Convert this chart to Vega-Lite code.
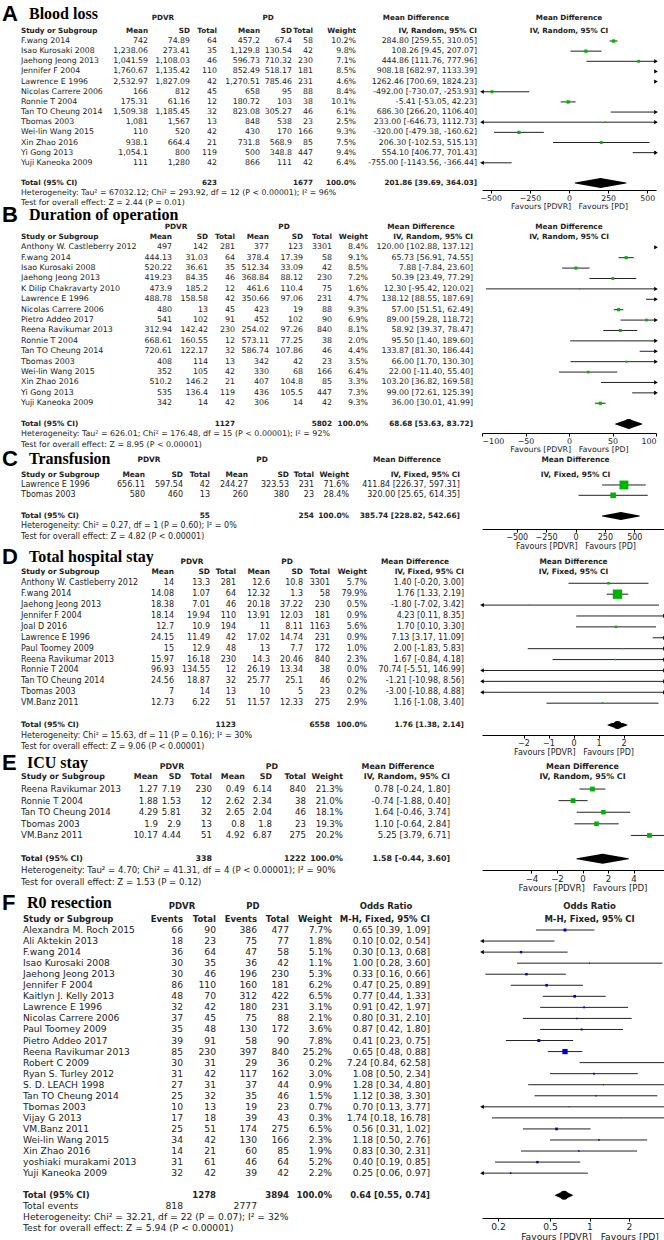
{
"$schema":"https://vega.github.io/schema/vega-lite/v6.json",
"padding":0,
"background":"white",
"columns":2,
"align":"none",
"spacing":0,
"bounds":"flush",
"config":{
 "view":{"stroke":null},
 "text":{"font":"DejaVu Sans","color":"#222"},
 "axis":{"labelFont":"DejaVu Sans","titleFont":"DejaVu Sans","titleFontWeight":"normal","tickSize":3,"labelPadding":1,"titlePadding":1,"domainColor":"#000","tickColor":"#000","labelColor":"#222","titleColor":"#222","grid":false}
},
"datasets":{
"A":[
{"r":-1,"k":"h","study":"Study or Subgroup","m1":"Mean","s1":"SD","n1":"Total","m2":"Mean","s2":"SD","n2":"Total","w":"Weight","ci":"IV, Random, 95% CI"},
{"r":0,"k":"s","study":"F.wang 2014","m1":"742","s1":"74.89","n1":"64","m2":"457.2","s2":"67.4","n2":"58","w":"10.2%","ci":"284.80 [259.55, 310.05]","wt":10.2,"est":284.8,"lo":259.55,"hi":310.05},
{"r":1,"k":"s","study":"Isao Kurosaki 2008","m1":"1,238.06","s1":"273.41","n1":"35","m2":"1,129.8","s2":"130.54","n2":"42","w":"9.8%","ci":"108.26 [9.45, 207.07]","wt":9.8,"est":108.26,"lo":9.45,"hi":207.07},
{"r":2,"k":"s","study":"Jaehong Jeong 2013","m1":"1,041.59","s1":"1,108.03","n1":"46","m2":"596.73","s2":"710.32","n2":"230","w":"7.1%","ci":"444.86 [111.76, 777.96]","wt":7.1,"est":444.86,"lo":111.76,"hi":777.96},
{"r":3,"k":"s","study":"Jennifer F 2004","m1":"1,760.67","s1":"1,135.42","n1":"110","m2":"852.49","s2":"518.17","n2":"181","w":"8.5%","ci":"908.18 [682.97, 1133.39]","wt":8.5,"est":908.18,"lo":682.97,"hi":1133.39},
{"r":4,"k":"s","study":"Lawrence E 1996","m1":"2,532.97","s1":"1,827.09","n1":"42","m2":"1,270.51","s2":"785.46","n2":"231","w":"4.6%","ci":"1262.46 [700.69, 1824.23]","wt":4.6,"est":1262.46,"lo":700.69,"hi":1824.23},
{"r":5,"k":"s","study":"Nicolas Carrere 2006","m1":"166","s1":"812","n1":"45","m2":"658","s2":"95","n2":"88","w":"8.4%","ci":"-492.00 [-730.07, -253.93]","wt":8.4,"est":-492,"lo":-730.07,"hi":-253.93},
{"r":6,"k":"s","study":"Ronnie T 2004","m1":"175.31","s1":"61.16","n1":"12","m2":"180.72","s2":"103","n2":"38","w":"10.1%","ci":"-5.41 [-53.05, 42.23]","wt":10.1,"est":-5.41,"lo":-53.05,"hi":42.23},
{"r":7,"k":"s","study":"Tan TO Cheung 2014","m1":"1,509.38","s1":"1,185.45","n1":"32","m2":"823.08","s2":"305.27","n2":"46","w":"6.1%","ci":"686.30 [266.20, 1106.40]","wt":6.1,"est":686.3,"lo":266.2,"hi":1106.4},
{"r":8,"k":"s","study":"Tbomas 2003","m1":"1,081","s1":"1,567","n1":"13","m2":"848","s2":"538","n2":"23","w":"2.5%","ci":"233.00 [-646.73, 1112.73]","wt":2.5,"est":233,"lo":-646.73,"hi":1112.73},
{"r":9,"k":"s","study":"Wei-lin Wang 2015","m1":"110","s1":"520","n1":"42","m2":"430","s2":"170","n2":"166","w":"9.3%","ci":"-320.00 [-479.38, -160.62]","wt":9.3,"est":-320,"lo":-479.38,"hi":-160.62},
{"r":10,"k":"s","study":"Xin Zhao 2016","m1":"938.1","s1":"664.4","n1":"21","m2":"731.8","s2":"568.9","n2":"85","w":"7.5%","ci":"206.30 [-102.53, 515.13]","wt":7.5,"est":206.3,"lo":-102.53,"hi":515.13},
{"r":11,"k":"s","study":"Yi Gong 2013","m1":"1,054.1","s1":"800","n1":"119","m2":"500","s2":"348.8","n2":"447","w":"9.4%","ci":"554.10 [406.77, 701.43]","wt":9.4,"est":554.1,"lo":406.77,"hi":701.43},
{"r":12,"k":"s","study":"Yuji Kaneoka 2009","m1":"111","s1":"1,280","n1":"42","m2":"866","s2":"111","n2":"42","w":"6.4%","ci":"-755.00 [-1143.56, -366.44]","wt":6.4,"est":-755,"lo":-1143.56,"hi":-366.44},
{"r":14,"k":"t","study":"Total (95% CI)","m1":"","s1":"","n1":"623","m2":"","s2":"","n2":"1677","w":"100.0%","ci":"201.86 [39.69, 364.03]","est":201.86,"lo":39.69,"hi":364.03}
],
"Ag":[{"r":-2,"letter":"A","title":"Blood loss","g1":"PDVR","g2":"PD","g3":"Mean Difference"}],
"An":[{"r":15,"note":"Heterogeneity: Tau² = 67032.12; Chi² = 293.92, df = 12 (P < 0.00001); I² = 96%"},{"r":16,"note":"Test for overall effect: Z = 2.44 (P = 0.01)"}],
"B":[
{"r":-1,"k":"h","study":"Study or Subgroup","m1":"Mean","s1":"SD","n1":"Total","m2":"Mean","s2":"SD","n2":"Total","w":"Weight","ci":"IV, Random, 95% CI"},
{"r":0,"k":"s","study":"Anthony W. Castleberry 2012","m1":"497","s1":"142","n1":"281","m2":"377","s2":"123","n2":"3301","w":"8.4%","ci":"120.00 [102.88, 137.12]","wt":8.4,"est":120,"lo":102.88,"hi":137.12},
{"r":1,"k":"s","study":"F.wang 2014","m1":"444.13","s1":"31.03","n1":"64","m2":"378.4","s2":"17.39","n2":"58","w":"9.1%","ci":"65.73 [56.91, 74.55]","wt":9.1,"est":65.73,"lo":56.91,"hi":74.55},
{"r":2,"k":"s","study":"Isao Kurosaki 2008","m1":"520.22","s1":"36.61","n1":"35","m2":"512.34","s2":"33.09","n2":"42","w":"8.5%","ci":"7.88 [-7.84, 23.60]","wt":8.5,"est":7.88,"lo":-7.84,"hi":23.6},
{"r":3,"k":"s","study":"Jaehong Jeong 2013","m1":"419.23","s1":"84.35","n1":"46","m2":"368.84","s2":"88.12","n2":"230","w":"7.2%","ci":"50.39 [23.49, 77.29]","wt":7.2,"est":50.39,"lo":23.49,"hi":77.29},
{"r":4,"k":"s","study":"K Dilip Chakravarty 2010","m1":"473.9","s1":"185.2","n1":"12","m2":"461.6","s2":"110.4","n2":"75","w":"1.6%","ci":"12.30 [-95.42, 120.02]","wt":1.6,"est":12.3,"lo":-95.42,"hi":120.02},
{"r":5,"k":"s","study":"Lawrence E 1996","m1":"488.78","s1":"158.58","n1":"42","m2":"350.66","s2":"97.06","n2":"231","w":"4.7%","ci":"138.12 [88.55, 187.69]","wt":4.7,"est":138.12,"lo":88.55,"hi":187.69},
{"r":6,"k":"s","study":"Nicolas Carrere 2006","m1":"480","s1":"13","n1":"45","m2":"423","s2":"19","n2":"88","w":"9.3%","ci":"57.00 [51.51, 62.49]","wt":9.3,"est":57,"lo":51.51,"hi":62.49},
{"r":7,"k":"s","study":"Pietro Addeo 2017","m1":"541","s1":"102","n1":"91","m2":"452","s2":"102","n2":"90","w":"6.9%","ci":"89.00 [59.28, 118.72]","wt":6.9,"est":89,"lo":59.28,"hi":118.72},
{"r":8,"k":"s","study":"Reena Ravikumar 2013","m1":"312.94","s1":"142.42","n1":"230","m2":"254.02","s2":"97.26","n2":"840","w":"8.1%","ci":"58.92 [39.37, 78.47]","wt":8.1,"est":58.92,"lo":39.37,"hi":78.47},
{"r":9,"k":"s","study":"Ronnie T 2004","m1":"668.61","s1":"160.55","n1":"12","m2":"573.11","s2":"77.25","n2":"38","w":"2.0%","ci":"95.50 [1.40, 189.60]","wt":2,"est":95.5,"lo":1.4,"hi":189.6},
{"r":10,"k":"s","study":"Tan TO Cheung 2014","m1":"720.61","s1":"122.17","n1":"32","m2":"586.74","s2":"107.86","n2":"46","w":"4.4%","ci":"133.87 [81.30, 186.44]","wt":4.4,"est":133.87,"lo":81.3,"hi":186.44},
{"r":11,"k":"s","study":"Tbomas 2003","m1":"408","s1":"114","n1":"13","m2":"342","s2":"42","n2":"23","w":"3.5%","ci":"66.00 [1.70, 130.30]","wt":3.5,"est":66,"lo":1.7,"hi":130.3},
{"r":12,"k":"s","study":"Wei-lin Wang 2015","m1":"352","s1":"105","n1":"42","m2":"330","s2":"68","n2":"166","w":"6.4%","ci":"22.00 [-11.40, 55.40]","wt":6.4,"est":22,"lo":-11.4,"hi":55.4},
{"r":13,"k":"s","study":"Xin Zhao 2016","m1":"510.2","s1":"146.2","n1":"21","m2":"407","s2":"104.8","n2":"85","w":"3.3%","ci":"103.20 [36.82, 169.58]","wt":3.3,"est":103.2,"lo":36.82,"hi":169.58},
{"r":14,"k":"s","study":"Yi Gong 2013","m1":"535","s1":"136.4","n1":"119","m2":"436","s2":"105.5","n2":"447","w":"7.3%","ci":"99.00 [72.61, 125.39]","wt":7.3,"est":99,"lo":72.61,"hi":125.39},
{"r":15,"k":"s","study":"Yuji Kaneoka 2009","m1":"342","s1":"14","n1":"42","m2":"306","s2":"14","n2":"42","w":"9.3%","ci":"36.00 [30.01, 41.99]","wt":9.3,"est":36,"lo":30.01,"hi":41.99},
{"r":17,"k":"t","study":"Total (95% CI)","m1":"","s1":"","n1":"1127","m2":"","s2":"","n2":"5802","w":"100.0%","ci":"68.68 [53.63, 83.72]","est":68.68,"lo":53.63,"hi":83.72}
],
"Bg":[{"r":-2,"letter":"B","title":"Duration of operation","g1":"PDVR","g2":"PD","g3":"Mean Difference"}],
"Bn":[{"r":18,"note":"Heterogeneity: Tau² = 626.01; Chi² = 176.48, df = 15 (P < 0.00001); I² = 92%"},{"r":19,"note":"Test for overall effect: Z = 8.95 (P < 0.00001)"}],
"C":[
{"r":-1,"k":"h","study":"Study or Subgroup","m1":"Mean","s1":"SD","n1":"Total","m2":"Mean","s2":"SD","n2":"Total","w":"Weight","ci":"IV, Fixed, 95% CI"},
{"r":0,"k":"s","study":"Lawrence E 1996","m1":"656.11","s1":"597.54","n1":"42","m2":"244.27","s2":"323.53","n2":"231","w":"71.6%","ci":"411.84 [226.37, 597.31]","wt":71.6,"est":411.84,"lo":226.37,"hi":597.31},
{"r":1,"k":"s","study":"Tbomas 2003","m1":"580","s1":"460","n1":"13","m2":"260","s2":"380","n2":"23","w":"28.4%","ci":"320.00 [25.65, 614.35]","wt":28.4,"est":320,"lo":25.65,"hi":614.35},
{"r":3,"k":"t","study":"Total (95% CI)","m1":"","s1":"","n1":"55","m2":"","s2":"","n2":"254","w":"100.0%","ci":"385.74 [228.82, 542.66]","est":385.74,"lo":228.82,"hi":542.66}
],
"Cg":[{"r":-2,"letter":"C","title":"Transfusion","g1":"PDVR","g2":"PD","g3":"Mean Difference"}],
"Cn":[{"r":4,"note":"Heterogeneity: Chi² = 0.27, df = 1 (P = 0.60); I² = 0%"},{"r":5,"note":"Test for overall effect: Z = 4.82 (P < 0.00001)"}],
"D":[
{"r":-1,"k":"h","study":"Study or Subgroup","m1":"Mean","s1":"SD","n1":"Total","m2":"Mean","s2":"SD","n2":"Total","w":"Weight","ci":"IV, Fixed, 95% CI"},
{"r":0,"k":"s","study":"Anthony W. Castleberry 2012","m1":"14","s1":"13.3","n1":"281","m2":"12.6","s2":"10.8","n2":"3301","w":"5.7%","ci":"1.40 [-0.20, 3.00]","wt":5.7,"est":1.4,"lo":-0.2,"hi":3},
{"r":1,"k":"s","study":"F.wang 2014","m1":"14.08","s1":"1.07","n1":"64","m2":"12.32","s2":"1.3","n2":"58","w":"79.9%","ci":"1.76 [1.33, 2.19]","wt":79.9,"est":1.76,"lo":1.33,"hi":2.19},
{"r":2,"k":"s","study":"Jaehong Jeong 2013","m1":"18.38","s1":"7.01","n1":"46","m2":"20.18","s2":"37.22","n2":"230","w":"0.5%","ci":"-1.80 [-7.02, 3.42]","wt":0.5,"est":-1.8,"lo":-7.02,"hi":3.42},
{"r":3,"k":"s","study":"Jennifer F 2004","m1":"18.14","s1":"19.94","n1":"110","m2":"13.91","s2":"12.03","n2":"181","w":"0.9%","ci":"4.23 [0.11, 8.35]","wt":0.9,"est":4.23,"lo":0.11,"hi":8.35},
{"r":4,"k":"s","study":"Joal D 2016","m1":"12.7","s1":"10.9","n1":"194","m2":"11","s2":"8.11","n2":"1163","w":"5.6%","ci":"1.70 [0.10, 3.30]","wt":5.6,"est":1.7,"lo":0.1,"hi":3.3},
{"r":5,"k":"s","study":"Lawrence E 1996","m1":"24.15","s1":"11.49","n1":"42","m2":"17.02","s2":"14.74","n2":"231","w":"0.9%","ci":"7.13 [3.17, 11.09]","wt":0.9,"est":7.13,"lo":3.17,"hi":11.09},
{"r":6,"k":"s","study":"Paul Toomey 2009","m1":"15","s1":"12.9","n1":"48","m2":"13","s2":"7.7","n2":"172","w":"1.0%","ci":"2.00 [-1.83, 5.83]","wt":1,"est":2,"lo":-1.83,"hi":5.83},
{"r":7,"k":"s","study":"Reena Ravikumar 2013","m1":"15.97","s1":"16.18","n1":"230","m2":"14.3","s2":"20.46","n2":"840","w":"2.3%","ci":"1.67 [-0.84, 4.18]","wt":2.3,"est":1.67,"lo":-0.84,"hi":4.18},
{"r":8,"k":"s","study":"Ronnie T 2004","m1":"96.93","s1":"134.55","n1":"12","m2":"26.19","s2":"13.34","n2":"38","w":"0.0%","ci":"70.74 [-5.51, 146.99]","wt":0,"est":70.74,"lo":-5.51,"hi":146.99},
{"r":9,"k":"s","study":"Tan TO Cheung 2014","m1":"24.56","s1":"18.87","n1":"32","m2":"25.77","s2":"25.1","n2":"46","w":"0.2%","ci":"-1.21 [-10.98, 8.56]","wt":0.2,"est":-1.21,"lo":-10.98,"hi":8.56},
{"r":10,"k":"s","study":"Tbomas 2003","m1":"7","s1":"14","n1":"13","m2":"10","s2":"5","n2":"23","w":"0.2%","ci":"-3.00 [-10.88, 4.88]","wt":0.2,"est":-3,"lo":-10.88,"hi":4.88},
{"r":11,"k":"s","study":"VM.Banz 2011","m1":"12.73","s1":"6.22","n1":"51","m2":"11.57","s2":"12.33","n2":"275","w":"2.9%","ci":"1.16 [-1.08, 3.40]","wt":2.9,"est":1.16,"lo":-1.08,"hi":3.4},
{"r":13,"k":"t","study":"Total (95% CI)","m1":"","s1":"","n1":"1123","m2":"","s2":"","n2":"6558","w":"100.0%","ci":"1.76 [1.38, 2.14]","est":1.76,"lo":1.38,"hi":2.14}
],
"Dg":[{"r":-2,"letter":"D","title":"Total hospital stay","g1":"PDVR","g2":"PD","g3":"Mean Difference"}],
"Dn":[{"r":14,"note":"Heterogeneity: Chi² = 15.63, df = 11 (P = 0.16); I² = 30%"},{"r":15,"note":"Test for overall effect: Z = 9.06 (P < 0.00001)"}],
"E":[
{"r":-1,"k":"h","study":"Study or Subgroup","m1":"Mean","s1":"SD","n1":"Total","m2":"Mean","s2":"SD","n2":"Total","w":"Weight","ci":"IV, Random, 95% CI"},
{"r":0,"k":"s","study":"Reena Ravikumar 2013","m1":"1.27","s1":"7.19","n1":"230","m2":"0.49","s2":"6.14","n2":"840","w":"21.3%","ci":"0.78 [-0.24, 1.80]","wt":21.3,"est":0.78,"lo":-0.24,"hi":1.8},
{"r":1,"k":"s","study":"Ronnie T 2004","m1":"1.88","s1":"1.53","n1":"12","m2":"2.62","s2":"2.34","n2":"38","w":"21.0%","ci":"-0.74 [-1.88, 0.40]","wt":21,"est":-0.74,"lo":-1.88,"hi":0.4},
{"r":2,"k":"s","study":"Tan TO Cheung 2014","m1":"4.29","s1":"5.81","n1":"32","m2":"2.65","s2":"2.04","n2":"46","w":"18.1%","ci":"1.64 [-0.46, 3.74]","wt":18.1,"est":1.64,"lo":-0.46,"hi":3.74},
{"r":3,"k":"s","study":"Tbomas 2003","m1":"1.9","s1":"2.9","n1":"13","m2":"0.8","s2":"1.8","n2":"23","w":"19.3%","ci":"1.10 [-0.64, 2.84]","wt":19.3,"est":1.1,"lo":-0.64,"hi":2.84},
{"r":4,"k":"s","study":"VM.Banz 2011","m1":"10.17","s1":"4.44","n1":"51","m2":"4.92","s2":"6.87","n2":"275","w":"20.2%","ci":"5.25 [3.79, 6.71]","wt":20.2,"est":5.25,"lo":3.79,"hi":6.71},
{"r":6,"k":"t","study":"Total (95% CI)","m1":"","s1":"","n1":"338","m2":"","s2":"","n2":"1222","w":"100.0%","ci":"1.58 [-0.44, 3.60]","est":1.58,"lo":-0.44,"hi":3.6}
],
"Eg":[{"r":-2,"letter":"E","title":"ICU stay","g1":"PDVR","g2":"PD","g3":"Mean Difference"}],
"En":[{"r":7,"note":"Heterogeneity: Tau² = 4.70; Chi² = 41.31, df = 4 (P < 0.00001); I² = 90%"},{"r":8,"note":"Test for overall effect: Z = 1.53 (P = 0.12)"}],
"F":[
{"r":-1,"k":"h","study":"Study or Subgroup","e1":"Events","n1":"Total","e2":"Events","n2":"Total","w":"Weight","ci":"M-H, Fixed, 95% CI"},
{"r":0,"k":"s","study":"Alexandra M. Roch 2015","e1":"66","n1":"90","e2":"386","n2":"477","w":"7.7%","ci":"0.65 [0.39, 1.09]","wt":7.7,"est":0.65,"lo":0.39,"hi":1.09},
{"r":1,"k":"s","study":"Ali Aktekin 2013","e1":"18","n1":"23","e2":"75","n2":"77","w":"1.8%","ci":"0.10 [0.02, 0.54]","wt":1.8,"est":0.1,"lo":0.02,"hi":0.54},
{"r":2,"k":"s","study":"F.wang 2014","e1":"36","n1":"64","e2":"47","n2":"58","w":"5.1%","ci":"0.30 [0.13, 0.68]","wt":5.1,"est":0.3,"lo":0.13,"hi":0.68},
{"r":3,"k":"s","study":"Isao Kurosaki 2008","e1":"30","n1":"35","e2":"36","n2":"42","w":"1.1%","ci":"1.00 [0.28, 3.60]","wt":1.1,"est":1,"lo":0.28,"hi":3.6},
{"r":4,"k":"s","study":"Jaehong Jeong 2013","e1":"30","n1":"46","e2":"196","n2":"230","w":"5.3%","ci":"0.33 [0.16, 0.66]","wt":5.3,"est":0.33,"lo":0.16,"hi":0.66},
{"r":5,"k":"s","study":"Jennifer F 2004","e1":"86","n1":"110","e2":"160","n2":"181","w":"6.2%","ci":"0.47 [0.25, 0.89]","wt":6.2,"est":0.47,"lo":0.25,"hi":0.89},
{"r":6,"k":"s","study":"Kaitlyn J. Kelly 2013","e1":"48","n1":"70","e2":"312","n2":"422","w":"6.5%","ci":"0.77 [0.44, 1.33]","wt":6.5,"est":0.77,"lo":0.44,"hi":1.33},
{"r":7,"k":"s","study":"Lawrence E 1996","e1":"32","n1":"42","e2":"180","n2":"231","w":"3.1%","ci":"0.91 [0.42, 1.97]","wt":3.1,"est":0.91,"lo":0.42,"hi":1.97},
{"r":8,"k":"s","study":"Nicolas Carrere 2006","e1":"37","n1":"45","e2":"75","n2":"88","w":"2.1%","ci":"0.80 [0.31, 2.10]","wt":2.1,"est":0.8,"lo":0.31,"hi":2.1},
{"r":9,"k":"s","study":"Paul Toomey 2009","e1":"35","n1":"48","e2":"130","n2":"172","w":"3.6%","ci":"0.87 [0.42, 1.80]","wt":3.6,"est":0.87,"lo":0.42,"hi":1.8},
{"r":10,"k":"s","study":"Pietro Addeo 2017","e1":"39","n1":"91","e2":"58","n2":"90","w":"7.8%","ci":"0.41 [0.23, 0.75]","wt":7.8,"est":0.41,"lo":0.23,"hi":0.75},
{"r":11,"k":"s","study":"Reena Ravikumar 2013","e1":"85","n1":"230","e2":"397","n2":"840","w":"25.2%","ci":"0.65 [0.48, 0.88]","wt":25.2,"est":0.65,"lo":0.48,"hi":0.88},
{"r":12,"k":"s","study":"Robert C 2009","e1":"30","n1":"31","e2":"29","n2":"36","w":"0.2%","ci":"7.24 [0.84, 62.58]","wt":0.2,"est":7.24,"lo":0.84,"hi":62.58},
{"r":13,"k":"s","study":"Ryan S. Turley 2012","e1":"31","n1":"42","e2":"117","n2":"162","w":"3.0%","ci":"1.08 [0.50, 2.34]","wt":3,"est":1.08,"lo":0.5,"hi":2.34},
{"r":14,"k":"s","study":"S. D. LEACH 1998","e1":"27","n1":"31","e2":"37","n2":"44","w":"0.9%","ci":"1.28 [0.34, 4.80]","wt":0.9,"est":1.28,"lo":0.34,"hi":4.8},
{"r":15,"k":"s","study":"Tan TO Cheung 2014","e1":"25","n1":"32","e2":"35","n2":"46","w":"1.5%","ci":"1.12 [0.38, 3.30]","wt":1.5,"est":1.12,"lo":0.38,"hi":3.3},
{"r":16,"k":"s","study":"Tbomas 2003","e1":"10","n1":"13","e2":"19","n2":"23","w":"0.7%","ci":"0.70 [0.13, 3.77]","wt":0.7,"est":0.7,"lo":0.13,"hi":3.77},
{"r":17,"k":"s","study":"Vijay G 2013","e1":"17","n1":"18","e2":"39","n2":"43","w":"0.3%","ci":"1.74 [0.18, 16.78]","wt":0.3,"est":1.74,"lo":0.18,"hi":16.78},
{"r":18,"k":"s","study":"VM.Banz 2011","e1":"25","n1":"51","e2":"174","n2":"275","w":"6.5%","ci":"0.56 [0.31, 1.02]","wt":6.5,"est":0.56,"lo":0.31,"hi":1.02},
{"r":19,"k":"s","study":"Wei-lin Wang 2015","e1":"34","n1":"42","e2":"130","n2":"166","w":"2.3%","ci":"1.18 [0.50, 2.76]","wt":2.3,"est":1.18,"lo":0.5,"hi":2.76},
{"r":20,"k":"s","study":"Xin Zhao 2016","e1":"14","n1":"21","e2":"60","n2":"85","w":"1.9%","ci":"0.83 [0.30, 2.31]","wt":1.9,"est":0.83,"lo":0.3,"hi":2.31},
{"r":21,"k":"s","study":"yoshiaki murakami 2013","e1":"31","n1":"61","e2":"46","n2":"64","w":"5.2%","ci":"0.40 [0.19, 0.85]","wt":5.2,"est":0.4,"lo":0.19,"hi":0.85},
{"r":22,"k":"s","study":"Yuji Kaneoka 2009","e1":"32","n1":"42","e2":"39","n2":"42","w":"2.2%","ci":"0.25 [0.06, 0.97]","wt":2.2,"est":0.25,"lo":0.06,"hi":0.97},
{"r":24,"k":"t","study":"Total (95% CI)","e1":"","n1":"1278","e2":"","n2":"3894","w":"100.0%","ci":"0.64 [0.55, 0.74]","est":0.64,"lo":0.55,"hi":0.74},
{"r":25,"k":"ev","study":"Total events","e1":"818","n1":"","e2":"2777","n2":"","w":"","ci":""}
],
"Fg":[{"r":-2,"letter":"F","title":"R0 resection","g1":"PDVR","g2":"PD","g3":"Odds Ratio"}],
"Fn":[{"r":26,"note":"Heterogeneity: Chi² = 32.21, df = 22 (P = 0.07); I² = 32%"},{"r":27,"note":"Test for overall effect: Z = 5.94 (P < 0.00001)"}]
},
"concat":[
{"width":482,"height":190,"encoding":{"y":{"field":"r","type":"quantitative","scale":{"domain":[-4.04,14.68],"reverse":true,"nice":false,"zero":false},"axis":null}},"layer":[
{"data":{"values":[{}]},"mark":{"type":"rule","color":"#666"},"encoding":{"x":{"datum":20,"scale":{"domain":[0,482],"nice":false,"zero":false},"axis":null},"x2":{"datum":482},"y":{"datum":-0.65}}},
{"data":{"name":"A"},"layer":[
{"mark":{"type":"text","align":"left","fontSize":{"expr":"datum.k=='h'||datum.k=='t'?7.2:7.8"},"fontWeight":{"expr":"datum.k=='h'||datum.k=='t'?'bold':'normal'"}},"encoding":{"x":{"datum":21,"axis":null},"text":{"field":"study"}}},
{"mark":{"type":"text","align":"right","fontSize":{"expr":"datum.k=='h'||datum.k=='t'?7.2:7.8"},"fontWeight":{"expr":"datum.k=='h'||datum.k=='t'?'bold':'normal'"}},"encoding":{"x":{"datum":148,"axis":null},"text":{"field":"m1"}}},
{"mark":{"type":"text","align":"right","fontSize":{"expr":"datum.k=='h'||datum.k=='t'?7.2:7.8"},"fontWeight":{"expr":"datum.k=='h'||datum.k=='t'?'bold':'normal'"}},"encoding":{"x":{"datum":190,"axis":null},"text":{"field":"s1"}}},
{"mark":{"type":"text","align":"right","fontSize":{"expr":"datum.k=='h'||datum.k=='t'?7.2:7.8"},"fontWeight":{"expr":"datum.k=='h'||datum.k=='t'?'bold':'normal'"}},"encoding":{"x":{"datum":217,"axis":null},"text":{"field":"n1"}}},
{"mark":{"type":"text","align":"right","fontSize":{"expr":"datum.k=='h'||datum.k=='t'?7.2:7.8"},"fontWeight":{"expr":"datum.k=='h'||datum.k=='t'?'bold':'normal'"}},"encoding":{"x":{"datum":260,"axis":null},"text":{"field":"m2"}}},
{"mark":{"type":"text","align":"right","fontSize":{"expr":"datum.k=='h'||datum.k=='t'?7.2:7.8"},"fontWeight":{"expr":"datum.k=='h'||datum.k=='t'?'bold':'normal'"}},"encoding":{"x":{"datum":292,"axis":null},"text":{"field":"s2"}}},
{"mark":{"type":"text","align":"right","fontSize":{"expr":"datum.k=='h'||datum.k=='t'?7.2:7.8"},"fontWeight":{"expr":"datum.k=='h'||datum.k=='t'?'bold':'normal'"}},"encoding":{"x":{"datum":313,"axis":null},"text":{"field":"n2"}}},
{"mark":{"type":"text","align":"right","fontSize":{"expr":"datum.k=='h'||datum.k=='t'?7.2:7.8"},"fontWeight":{"expr":"datum.k=='h'||datum.k=='t'?'bold':'normal'"}},"encoding":{"x":{"datum":356,"axis":null},"text":{"field":"w"}}},
{"mark":{"type":"text","align":"right","fontSize":{"expr":"datum.k=='h'||datum.k=='t'?7.2:7.8"},"fontWeight":{"expr":"datum.k=='h'||datum.k=='t'?'bold':'normal'"}},"encoding":{"x":{"datum":477,"axis":null},"text":{"field":"ci"}}}
]},
{"data":{"name":"Ag"},"layer":[
{"mark":{"type":"text","align":"left","font":"Liberation Sans","fontWeight":"bold","fontSize":22,"color":"#000","dy":-6.7},"encoding":{"x":{"datum":2,"axis":null},"text":{"field":"letter"}}},
{"mark":{"type":"text","align":"left","font":"Liberation Serif","fontWeight":"bold","fontSize":16,"color":"#000","dy":-6.7},"encoding":{"x":{"datum":29,"axis":null},"text":{"field":"title"}}},
{"mark":{"type":"text","fontWeight":"bold","fontSize":7.2,"dy":-2.7},"encoding":{"x":{"datum":163,"axis":null},"text":{"field":"g1"}}},
{"mark":{"type":"text","fontWeight":"bold","fontSize":7.2,"dy":-2.7},"encoding":{"x":{"datum":268,"axis":null},"text":{"field":"g2"}}},
{"mark":{"type":"text","fontWeight":"bold","fontSize":7.2,"dy":-2.7},"encoding":{"x":{"datum":416,"axis":null},"text":{"field":"g3"}}}
]},
{"data":{"name":"An"},"mark":{"type":"text","align":"left","fontSize":7.8},"encoding":{"x":{"datum":21,"axis":null},"text":{"field":"note"}}}
]},
{"width":174,"height":190,"encoding":{"y":{"field":"r","type":"quantitative","scale":{"domain":[-4.04,14.68],"reverse":true,"nice":false,"zero":false},"axis":null}},"layer":[
{"data":{"values":[{}]},"mark":{"type":"rule","color":"#666"},"encoding":{"x":{"datum":-556,"scale":{"domain":[-556,556],"nice":false,"zero":false},"axis":{"values":[-500,-250,0,250,500],"title":"Favours [PDVR]\u00a0\u00a0\u00a0Favours [PD]","labelFontSize":7.8,"titleFontSize":7.8}},"x2":{"datum":607},"y":{"datum":-0.65}}},
{"data":{"values":[{}]},"mark":{"type":"rule","color":"#000"},"encoding":{"x":{"datum":0},"y":{"datum":-0.65},"y2":{"datum":14.68}}},
{"data":{"name":"Ag"},"mark":{"type":"text","fontWeight":"bold","fontSize":7.2,"dy":-2.7},"encoding":{"x":{"datum":0},"text":{"field":"g3"}}},
{"data":{"name":"A"},"transform":[{"filter":"datum.k=='h'"}],"mark":{"type":"text","fontWeight":"bold","fontSize":7.2},"encoding":{"x":{"datum":0},"text":{"field":"ci"}}},
{"data":{"name":"A"},"transform":[{"filter":"datum.k=='s'"}],"layer":[
{"mark":{"type":"rule","color":"#222","clip":true},"encoding":{"x":{"field":"lo","type":"quantitative"},"x2":{"field":"hi"}}},
{"mark":{"type":"point","shape":"square","filled":true,"opacity":1,"color":"#00b300","clip":true},"encoding":{"x":{"field":"est","type":"quantitative"},"size":{"field":"wt","type":"quantitative","scale":{"domain":[0,100],"range":[0,110]},"legend":null}}},
{"transform":[{"filter":"datum.hi>556"}],"mark":{"type":"point","shape":"triangle-right","filled":true,"opacity":1,"color":"#000","size":18},"encoding":{"x":{"datum":556}}},
{"transform":[{"filter":"datum.lo<-556"}],"mark":{"type":"point","shape":"triangle-left","filled":true,"opacity":1,"color":"#000","size":18},"encoding":{"x":{"datum":-556}}}
]},
{"data":{"name":"A"},"transform":[{"filter":"datum.k=='t'"},{"fold":["lo","est","hi"],"as":["key","val"]}],"mark":{"type":"trail","color":"#000"},"encoding":{"x":{"field":"val","type":"quantitative"},"order":{"field":"val","type":"quantitative"},"size":{"condition":{"test":"datum.key=='est'","value":10},"value":0}}}
]},
{"width":479,"height":243,"encoding":{"y":{"field":"r","type":"quantitative","scale":{"domain":[-5.51,17.86],"reverse":true,"nice":false,"zero":false},"axis":null}},"layer":[
{"data":{"values":[{}]},"mark":{"type":"rule","color":"#666"},"encoding":{"x":{"datum":20,"scale":{"domain":[0,479],"nice":false,"zero":false},"axis":null},"x2":{"datum":479},"y":{"datum":-0.65}}},
{"data":{"name":"B"},"layer":[
{"mark":{"type":"text","align":"left","fontSize":{"expr":"datum.k=='h'||datum.k=='t'?7.3:7.9"},"fontWeight":{"expr":"datum.k=='h'||datum.k=='t'?'bold':'normal'"}},"encoding":{"x":{"datum":21,"axis":null},"text":{"field":"study"}}},
{"mark":{"type":"text","align":"right","fontSize":{"expr":"datum.k=='h'||datum.k=='t'?7.3:7.9"},"fontWeight":{"expr":"datum.k=='h'||datum.k=='t'?'bold':'normal'"}},"encoding":{"x":{"datum":172,"axis":null},"text":{"field":"m1"}}},
{"mark":{"type":"text","align":"right","fontSize":{"expr":"datum.k=='h'||datum.k=='t'?7.3:7.9"},"fontWeight":{"expr":"datum.k=='h'||datum.k=='t'?'bold':'normal'"}},"encoding":{"x":{"datum":208,"axis":null},"text":{"field":"s1"}}},
{"mark":{"type":"text","align":"right","fontSize":{"expr":"datum.k=='h'||datum.k=='t'?7.3:7.9"},"fontWeight":{"expr":"datum.k=='h'||datum.k=='t'?'bold':'normal'"}},"encoding":{"x":{"datum":235,"axis":null},"text":{"field":"n1"}}},
{"mark":{"type":"text","align":"right","fontSize":{"expr":"datum.k=='h'||datum.k=='t'?7.3:7.9"},"fontWeight":{"expr":"datum.k=='h'||datum.k=='t'?'bold':'normal'"}},"encoding":{"x":{"datum":269,"axis":null},"text":{"field":"m2"}}},
{"mark":{"type":"text","align":"right","fontSize":{"expr":"datum.k=='h'||datum.k=='t'?7.3:7.9"},"fontWeight":{"expr":"datum.k=='h'||datum.k=='t'?'bold':'normal'"}},"encoding":{"x":{"datum":303,"axis":null},"text":{"field":"s2"}}},
{"mark":{"type":"text","align":"right","fontSize":{"expr":"datum.k=='h'||datum.k=='t'?7.3:7.9"},"fontWeight":{"expr":"datum.k=='h'||datum.k=='t'?'bold':'normal'"}},"encoding":{"x":{"datum":332,"axis":null},"text":{"field":"n2"}}},
{"mark":{"type":"text","align":"right","fontSize":{"expr":"datum.k=='h'||datum.k=='t'?7.3:7.9"},"fontWeight":{"expr":"datum.k=='h'||datum.k=='t'?'bold':'normal'"}},"encoding":{"x":{"datum":368,"axis":null},"text":{"field":"w"}}},
{"mark":{"type":"text","align":"right","fontSize":{"expr":"datum.k=='h'||datum.k=='t'?7.3:7.9"},"fontWeight":{"expr":"datum.k=='h'||datum.k=='t'?'bold':'normal'"}},"encoding":{"x":{"datum":473,"axis":null},"text":{"field":"ci"}}}
]},
{"data":{"name":"Bg"},"layer":[
{"mark":{"type":"text","align":"left","font":"Liberation Sans","fontWeight":"bold","fontSize":22,"color":"#000","dy":-11.5},"encoding":{"x":{"datum":2,"axis":null},"text":{"field":"letter"}}},
{"mark":{"type":"text","align":"left","font":"Liberation Serif","fontWeight":"bold","fontSize":16,"color":"#000","dy":-11.5},"encoding":{"x":{"datum":29,"axis":null},"text":{"field":"title"}}},
{"mark":{"type":"text","fontWeight":"bold","fontSize":7.3,"dy":0.5},"encoding":{"x":{"datum":176,"axis":null},"text":{"field":"g1"}}},
{"mark":{"type":"text","fontWeight":"bold","fontSize":7.3,"dy":0.5},"encoding":{"x":{"datum":284,"axis":null},"text":{"field":"g2"}}},
{"mark":{"type":"text","fontWeight":"bold","fontSize":7.3,"dy":0.5},"encoding":{"x":{"datum":421,"axis":null},"text":{"field":"g3"}}}
]},
{"data":{"name":"Bn"},"mark":{"type":"text","align":"left","fontSize":7.9},"encoding":{"x":{"datum":21,"axis":null},"text":{"field":"note"}}}
]},
{"width":174,"height":243,"encoding":{"y":{"field":"r","type":"quantitative","scale":{"domain":[-5.51,17.86],"reverse":true,"nice":false,"zero":false},"axis":null}},"layer":[
{"data":{"values":[{}]},"mark":{"type":"rule","color":"#666"},"encoding":{"x":{"datum":-100,"scale":{"domain":[-100,100],"nice":false,"zero":false},"axis":{"values":[-100,-50,0,50,100],"title":"Favours [PDVR]\u00a0\u00a0\u00a0Favours [PD]","labelFontSize":7.9,"titleFontSize":7.9}},"x2":{"datum":112.6},"y":{"datum":-0.65}}},
{"data":{"values":[{}]},"mark":{"type":"rule","color":"#000"},"encoding":{"x":{"datum":0},"y":{"datum":-0.65},"y2":{"datum":17.86}}},
{"data":{"name":"Bg"},"mark":{"type":"text","fontWeight":"bold","fontSize":7.3,"dy":0.5},"encoding":{"x":{"datum":0},"text":{"field":"g3"}}},
{"data":{"name":"B"},"transform":[{"filter":"datum.k=='h'"}],"mark":{"type":"text","fontWeight":"bold","fontSize":7.3},"encoding":{"x":{"datum":0},"text":{"field":"ci"}}},
{"data":{"name":"B"},"transform":[{"filter":"datum.k=='s'"}],"layer":[
{"mark":{"type":"rule","color":"#222","clip":true},"encoding":{"x":{"field":"lo","type":"quantitative"},"x2":{"field":"hi"}}},
{"mark":{"type":"point","shape":"square","filled":true,"opacity":1,"color":"#00b300","clip":true},"encoding":{"x":{"field":"est","type":"quantitative"},"size":{"field":"wt","type":"quantitative","scale":{"domain":[0,100],"range":[0,110]},"legend":null}}},
{"transform":[{"filter":"datum.hi>100"}],"mark":{"type":"point","shape":"triangle-right","filled":true,"opacity":1,"color":"#000","size":18},"encoding":{"x":{"datum":100}}},
{"transform":[{"filter":"datum.lo<-100"}],"mark":{"type":"point","shape":"triangle-left","filled":true,"opacity":1,"color":"#000","size":18},"encoding":{"x":{"datum":-100}}}
]},
{"data":{"name":"B"},"transform":[{"filter":"datum.k=='t'"},{"fold":["lo","est","hi"],"as":["key","val"]}],"mark":{"type":"trail","color":"#000"},"encoding":{"x":{"field":"val","type":"quantitative"},"order":{"field":"val","type":"quantitative"},"size":{"condition":{"test":"datum.key=='est'","value":10},"value":0}}}
]},
{"width":469,"height":96,"encoding":{"y":{"field":"r","type":"quantitative","scale":{"domain":[-5.03,4.26],"reverse":true,"nice":false,"zero":false},"axis":null}},"layer":[
{"data":{"values":[{}]},"mark":{"type":"rule","color":"#666"},"encoding":{"x":{"datum":20,"scale":{"domain":[0,469],"nice":false,"zero":false},"axis":null},"x2":{"datum":469},"y":{"datum":-0.65}}},
{"data":{"name":"C"},"layer":[
{"mark":{"type":"text","align":"left","fontSize":{"expr":"datum.k=='h'||datum.k=='t'?7.4:8"},"fontWeight":{"expr":"datum.k=='h'||datum.k=='t'?'bold':'normal'"}},"encoding":{"x":{"datum":21,"axis":null},"text":{"field":"study"}}},
{"mark":{"type":"text","align":"right","fontSize":{"expr":"datum.k=='h'||datum.k=='t'?7.4:8"},"fontWeight":{"expr":"datum.k=='h'||datum.k=='t'?'bold':'normal'"}},"encoding":{"x":{"datum":145,"axis":null},"text":{"field":"m1"}}},
{"mark":{"type":"text","align":"right","fontSize":{"expr":"datum.k=='h'||datum.k=='t'?7.4:8"},"fontWeight":{"expr":"datum.k=='h'||datum.k=='t'?'bold':'normal'"}},"encoding":{"x":{"datum":183,"axis":null},"text":{"field":"s1"}}},
{"mark":{"type":"text","align":"right","fontSize":{"expr":"datum.k=='h'||datum.k=='t'?7.4:8"},"fontWeight":{"expr":"datum.k=='h'||datum.k=='t'?'bold':'normal'"}},"encoding":{"x":{"datum":210,"axis":null},"text":{"field":"n1"}}},
{"mark":{"type":"text","align":"right","fontSize":{"expr":"datum.k=='h'||datum.k=='t'?7.4:8"},"fontWeight":{"expr":"datum.k=='h'||datum.k=='t'?'bold':'normal'"}},"encoding":{"x":{"datum":248,"axis":null},"text":{"field":"m2"}}},
{"mark":{"type":"text","align":"right","fontSize":{"expr":"datum.k=='h'||datum.k=='t'?7.4:8"},"fontWeight":{"expr":"datum.k=='h'||datum.k=='t'?'bold':'normal'"}},"encoding":{"x":{"datum":289,"axis":null},"text":{"field":"s2"}}},
{"mark":{"type":"text","align":"right","fontSize":{"expr":"datum.k=='h'||datum.k=='t'?7.4:8"},"fontWeight":{"expr":"datum.k=='h'||datum.k=='t'?'bold':'normal'"}},"encoding":{"x":{"datum":314,"axis":null},"text":{"field":"n2"}}},
{"mark":{"type":"text","align":"right","fontSize":{"expr":"datum.k=='h'||datum.k=='t'?7.4:8"},"fontWeight":{"expr":"datum.k=='h'||datum.k=='t'?'bold':'normal'"}},"encoding":{"x":{"datum":349,"axis":null},"text":{"field":"w"}}},
{"mark":{"type":"text","align":"right","fontSize":{"expr":"datum.k=='h'||datum.k=='t'?7.4:8"},"fontWeight":{"expr":"datum.k=='h'||datum.k=='t'?'bold':'normal'"}},"encoding":{"x":{"datum":460,"axis":null},"text":{"field":"ci"}}}
]},
{"data":{"name":"Cg"},"layer":[
{"mark":{"type":"text","align":"left","font":"Liberation Sans","fontWeight":"bold","fontSize":22,"color":"#000","dy":-5.4},"encoding":{"x":{"datum":2,"axis":null},"text":{"field":"letter"}}},
{"mark":{"type":"text","align":"left","font":"Liberation Serif","fontWeight":"bold","fontSize":16,"color":"#000","dy":-5.4},"encoding":{"x":{"datum":29,"axis":null},"text":{"field":"title"}}},
{"mark":{"type":"text","fontWeight":"bold","fontSize":7.4,"dy":-4},"encoding":{"x":{"datum":149,"axis":null},"text":{"field":"g1"}}},
{"mark":{"type":"text","fontWeight":"bold","fontSize":7.4,"dy":-4},"encoding":{"x":{"datum":262,"axis":null},"text":{"field":"g2"}}},
{"mark":{"type":"text","fontWeight":"bold","fontSize":7.4,"dy":-4},"encoding":{"x":{"datum":407,"axis":null},"text":{"field":"g3"}}}
]},
{"data":{"name":"Cn"},"mark":{"type":"text","align":"left","fontSize":8},"encoding":{"x":{"datum":21,"axis":null},"text":{"field":"note"}}}
]},
{"width":187,"height":96,"encoding":{"y":{"field":"r","type":"quantitative","scale":{"domain":[-5.03,4.26],"reverse":true,"nice":false,"zero":false},"axis":null}},"layer":[
{"data":{"values":[{}]},"mark":{"type":"rule","color":"#666"},"encoding":{"x":{"datum":-795,"scale":{"domain":[-795,795],"nice":false,"zero":false},"axis":{"values":[-500,-250,0,250,500],"title":"Favours [PDVR]\u00a0\u00a0\u00a0Favours [PD]","labelFontSize":8,"titleFontSize":8}},"x2":{"datum":863},"y":{"datum":-0.65}}},
{"data":{"values":[{}]},"mark":{"type":"rule","color":"#000"},"encoding":{"x":{"datum":0},"y":{"datum":-0.65},"y2":{"datum":4.26}}},
{"data":{"name":"Cg"},"mark":{"type":"text","fontWeight":"bold","fontSize":7.4,"dy":-4},"encoding":{"x":{"datum":0},"text":{"field":"g3"}}},
{"data":{"name":"C"},"transform":[{"filter":"datum.k=='h'"}],"mark":{"type":"text","fontWeight":"bold","fontSize":7.4},"encoding":{"x":{"datum":0},"text":{"field":"ci"}}},
{"data":{"name":"C"},"transform":[{"filter":"datum.k=='s'"}],"layer":[
{"mark":{"type":"rule","color":"#222","clip":true},"encoding":{"x":{"field":"lo","type":"quantitative"},"x2":{"field":"hi"}}},
{"mark":{"type":"point","shape":"square","filled":true,"opacity":1,"color":"#00b300","clip":true},"encoding":{"x":{"field":"est","type":"quantitative"},"size":{"field":"wt","type":"quantitative","scale":{"domain":[0,100],"range":[0,110]},"legend":null}}},
{"transform":[{"filter":"datum.hi>795"}],"mark":{"type":"point","shape":"triangle-right","filled":true,"opacity":1,"color":"#000","size":18},"encoding":{"x":{"datum":795}}},
{"transform":[{"filter":"datum.lo<-795"}],"mark":{"type":"point","shape":"triangle-left","filled":true,"opacity":1,"color":"#000","size":18},"encoding":{"x":{"datum":-795}}}
]},
{"data":{"name":"C"},"transform":[{"filter":"datum.k=='t'"},{"fold":["lo","est","hi"],"as":["key","val"]}],"mark":{"type":"trail","color":"#000"},"encoding":{"x":{"field":"val","type":"quantitative"},"order":{"field":"val","type":"quantitative"},"size":{"condition":{"test":"datum.key=='est'","value":8},"value":0}}}
]},
{"width":472,"height":206,"encoding":{"y":{"field":"r","type":"quantitative","scale":{"domain":[-4.98,13.92],"reverse":true,"nice":false,"zero":false},"axis":null}},"layer":[
{"data":{"values":[{}]},"mark":{"type":"rule","color":"#666"},"encoding":{"x":{"datum":20,"scale":{"domain":[0,472],"nice":false,"zero":false},"axis":null},"x2":{"datum":472},"y":{"datum":-0.65}}},
{"data":{"name":"D"},"layer":[
{"mark":{"type":"text","align":"left","fontSize":{"expr":"datum.k=='h'||datum.k=='t'?7.4:8"},"fontWeight":{"expr":"datum.k=='h'||datum.k=='t'?'bold':'normal'"}},"encoding":{"x":{"datum":21,"axis":null},"text":{"field":"study"}}},
{"mark":{"type":"text","align":"right","fontSize":{"expr":"datum.k=='h'||datum.k=='t'?7.4:8"},"fontWeight":{"expr":"datum.k=='h'||datum.k=='t'?'bold':'normal'"}},"encoding":{"x":{"datum":174,"axis":null},"text":{"field":"m1"}}},
{"mark":{"type":"text","align":"right","fontSize":{"expr":"datum.k=='h'||datum.k=='t'?7.4:8"},"fontWeight":{"expr":"datum.k=='h'||datum.k=='t'?'bold':'normal'"}},"encoding":{"x":{"datum":210,"axis":null},"text":{"field":"s1"}}},
{"mark":{"type":"text","align":"right","fontSize":{"expr":"datum.k=='h'||datum.k=='t'?7.4:8"},"fontWeight":{"expr":"datum.k=='h'||datum.k=='t'?'bold':'normal'"}},"encoding":{"x":{"datum":236,"axis":null},"text":{"field":"n1"}}},
{"mark":{"type":"text","align":"right","fontSize":{"expr":"datum.k=='h'||datum.k=='t'?7.4:8"},"fontWeight":{"expr":"datum.k=='h'||datum.k=='t'?'bold':'normal'"}},"encoding":{"x":{"datum":270,"axis":null},"text":{"field":"m2"}}},
{"mark":{"type":"text","align":"right","fontSize":{"expr":"datum.k=='h'||datum.k=='t'?7.4:8"},"fontWeight":{"expr":"datum.k=='h'||datum.k=='t'?'bold':'normal'"}},"encoding":{"x":{"datum":303,"axis":null},"text":{"field":"s2"}}},
{"mark":{"type":"text","align":"right","fontSize":{"expr":"datum.k=='h'||datum.k=='t'?7.4:8"},"fontWeight":{"expr":"datum.k=='h'||datum.k=='t'?'bold':'normal'"}},"encoding":{"x":{"datum":330,"axis":null},"text":{"field":"n2"}}},
{"mark":{"type":"text","align":"right","fontSize":{"expr":"datum.k=='h'||datum.k=='t'?7.4:8"},"fontWeight":{"expr":"datum.k=='h'||datum.k=='t'?'bold':'normal'"}},"encoding":{"x":{"datum":367,"axis":null},"text":{"field":"w"}}},
{"mark":{"type":"text","align":"right","fontSize":{"expr":"datum.k=='h'||datum.k=='t'?7.4:8"},"fontWeight":{"expr":"datum.k=='h'||datum.k=='t'?'bold':'normal'"}},"encoding":{"x":{"datum":464,"axis":null},"text":{"field":"ci"}}}
]},
{"data":{"name":"Dg"},"layer":[
{"mark":{"type":"text","align":"left","font":"Liberation Sans","fontWeight":"bold","fontSize":22,"color":"#000","dy":-4},"encoding":{"x":{"datum":2,"axis":null},"text":{"field":"letter"}}},
{"mark":{"type":"text","align":"left","font":"Liberation Serif","fontWeight":"bold","fontSize":16,"color":"#000","dy":-4},"encoding":{"x":{"datum":29,"axis":null},"text":{"field":"title"}}},
{"mark":{"type":"text","fontWeight":"bold","fontSize":7.4,"dy":0.5},"encoding":{"x":{"datum":192,"axis":null},"text":{"field":"g1"}}},
{"mark":{"type":"text","fontWeight":"bold","fontSize":7.4,"dy":0.5},"encoding":{"x":{"datum":287,"axis":null},"text":{"field":"g2"}}},
{"mark":{"type":"text","fontWeight":"bold","fontSize":7.4,"dy":0.5},"encoding":{"x":{"datum":415,"axis":null},"text":{"field":"g3"}}}
]},
{"data":{"name":"Dn"},"mark":{"type":"text","align":"left","fontSize":8},"encoding":{"x":{"datum":21,"axis":null},"text":{"field":"note"}}}
]},
{"width":183,"height":206,"encoding":{"y":{"field":"r","type":"quantitative","scale":{"domain":[-4.98,13.92],"reverse":true,"nice":false,"zero":false},"axis":null}},"layer":[
{"data":{"values":[{}]},"mark":{"type":"rule","color":"#666"},"encoding":{"x":{"datum":-3.66,"scale":{"domain":[-3.66,3.66],"nice":false,"zero":false},"axis":{"values":[-2,-1,0,1,2],"title":"Favours [PDVR]\u00a0\u00a0\u00a0Favours [PD]","labelFontSize":8,"titleFontSize":8}},"x2":{"datum":4.02},"y":{"datum":-0.65}}},
{"data":{"values":[{}]},"mark":{"type":"rule","color":"#000"},"encoding":{"x":{"datum":0},"y":{"datum":-0.65},"y2":{"datum":13.92}}},
{"data":{"name":"Dg"},"mark":{"type":"text","fontWeight":"bold","fontSize":7.4,"dy":0.5},"encoding":{"x":{"datum":0},"text":{"field":"g3"}}},
{"data":{"name":"D"},"transform":[{"filter":"datum.k=='h'"}],"mark":{"type":"text","fontWeight":"bold","fontSize":7.4},"encoding":{"x":{"datum":0},"text":{"field":"ci"}}},
{"data":{"name":"D"},"transform":[{"filter":"datum.k=='s'"}],"layer":[
{"mark":{"type":"rule","color":"#222","clip":true},"encoding":{"x":{"field":"lo","type":"quantitative"},"x2":{"field":"hi"}}},
{"mark":{"type":"point","shape":"square","filled":true,"opacity":1,"color":"#00b300","clip":true},"encoding":{"x":{"field":"est","type":"quantitative"},"size":{"field":"wt","type":"quantitative","scale":{"domain":[0,100],"range":[0,110]},"legend":null}}},
{"transform":[{"filter":"datum.hi>3.66"}],"mark":{"type":"point","shape":"triangle-right","filled":true,"opacity":1,"color":"#000","size":18},"encoding":{"x":{"datum":3.66}}},
{"transform":[{"filter":"datum.lo<-3.66"}],"mark":{"type":"point","shape":"triangle-left","filled":true,"opacity":1,"color":"#000","size":18},"encoding":{"x":{"datum":-3.66}}}
]},
{"data":{"name":"D"},"transform":[{"filter":"datum.k=='t'"},{"fold":["lo","est","hi"],"as":["key","val"]}],"mark":{"type":"trail","color":"#000"},"encoding":{"x":{"field":"val","type":"quantitative"},"order":{"field":"val","type":"quantitative"},"size":{"condition":{"test":"datum.key=='est'","value":8},"value":0}}}
]},
{"width":454,"height":135,"encoding":{"y":{"field":"r","type":"quantitative","scale":{"domain":[-4.66,6.98],"reverse":true,"nice":false,"zero":false},"axis":null}},"layer":[
{"data":{"values":[{}]},"mark":{"type":"rule","color":"#666"},"encoding":{"x":{"datum":20,"scale":{"domain":[0,454],"nice":false,"zero":false},"axis":null},"x2":{"datum":454},"y":{"datum":-0.65}}},
{"data":{"name":"E"},"layer":[
{"mark":{"type":"text","align":"left","fontSize":{"expr":"datum.k=='h'||datum.k=='t'?7.9:8.6"},"fontWeight":{"expr":"datum.k=='h'||datum.k=='t'?'bold':'normal'"}},"encoding":{"x":{"datum":21,"axis":null},"text":{"field":"study"}}},
{"mark":{"type":"text","align":"right","fontSize":{"expr":"datum.k=='h'||datum.k=='t'?7.9:8.6"},"fontWeight":{"expr":"datum.k=='h'||datum.k=='t'?'bold':'normal'"}},"encoding":{"x":{"datum":158,"axis":null},"text":{"field":"m1"}}},
{"mark":{"type":"text","align":"right","fontSize":{"expr":"datum.k=='h'||datum.k=='t'?7.9:8.6"},"fontWeight":{"expr":"datum.k=='h'||datum.k=='t'?'bold':'normal'"}},"encoding":{"x":{"datum":181,"axis":null},"text":{"field":"s1"}}},
{"mark":{"type":"text","align":"right","fontSize":{"expr":"datum.k=='h'||datum.k=='t'?7.9:8.6"},"fontWeight":{"expr":"datum.k=='h'||datum.k=='t'?'bold':'normal'"}},"encoding":{"x":{"datum":212,"axis":null},"text":{"field":"n1"}}},
{"mark":{"type":"text","align":"right","fontSize":{"expr":"datum.k=='h'||datum.k=='t'?7.9:8.6"},"fontWeight":{"expr":"datum.k=='h'||datum.k=='t'?'bold':'normal'"}},"encoding":{"x":{"datum":245,"axis":null},"text":{"field":"m2"}}},
{"mark":{"type":"text","align":"right","fontSize":{"expr":"datum.k=='h'||datum.k=='t'?7.9:8.6"},"fontWeight":{"expr":"datum.k=='h'||datum.k=='t'?'bold':'normal'"}},"encoding":{"x":{"datum":272,"axis":null},"text":{"field":"s2"}}},
{"mark":{"type":"text","align":"right","fontSize":{"expr":"datum.k=='h'||datum.k=='t'?7.9:8.6"},"fontWeight":{"expr":"datum.k=='h'||datum.k=='t'?'bold':'normal'"}},"encoding":{"x":{"datum":306,"axis":null},"text":{"field":"n2"}}},
{"mark":{"type":"text","align":"right","fontSize":{"expr":"datum.k=='h'||datum.k=='t'?7.9:8.6"},"fontWeight":{"expr":"datum.k=='h'||datum.k=='t'?'bold':'normal'"}},"encoding":{"x":{"datum":343,"axis":null},"text":{"field":"w"}}},
{"mark":{"type":"text","align":"right","fontSize":{"expr":"datum.k=='h'||datum.k=='t'?7.9:8.6"},"fontWeight":{"expr":"datum.k=='h'||datum.k=='t'?'bold':'normal'"}},"encoding":{"x":{"datum":450,"axis":null},"text":{"field":"ci"}}}
]},
{"data":{"name":"Eg"},"layer":[
{"mark":{"type":"text","align":"left","font":"Liberation Sans","fontWeight":"bold","fontSize":22,"color":"#000","dy":-2.8},"encoding":{"x":{"datum":2,"axis":null},"text":{"field":"letter"}}},
{"mark":{"type":"text","align":"left","font":"Liberation Serif","fontWeight":"bold","fontSize":16,"color":"#000","dy":-2.8},"encoding":{"x":{"datum":27,"axis":null},"text":{"field":"title"}}},
{"mark":{"type":"text","fontWeight":"bold","fontSize":7.9,"dy":1.2},"encoding":{"x":{"datum":172,"axis":null},"text":{"field":"g1"}}},
{"mark":{"type":"text","fontWeight":"bold","fontSize":7.9,"dy":1.2},"encoding":{"x":{"datum":272,"axis":null},"text":{"field":"g2"}}},
{"mark":{"type":"text","fontWeight":"bold","fontSize":7.9,"dy":1.2},"encoding":{"x":{"datum":398,"axis":null},"text":{"field":"g3"}}}
]},
{"data":{"name":"En"},"mark":{"type":"text","align":"left","fontSize":8.6},"encoding":{"x":{"datum":21,"axis":null},"text":{"field":"note"}}}
]},
{"width":201,"height":135,"encoding":{"y":{"field":"r","type":"quantitative","scale":{"domain":[-4.66,6.98],"reverse":true,"nice":false,"zero":false},"axis":null}},"layer":[
{"data":{"values":[{}]},"mark":{"type":"rule","color":"#666"},"encoding":{"x":{"datum":-7.88,"scale":{"domain":[-7.88,7.88],"nice":false,"zero":false},"axis":{"values":[-4,-2,0,2,4],"title":"Favours [PDVR]\u00a0\u00a0\u00a0Favours [PD]","labelFontSize":8.6,"titleFontSize":8.6}},"x2":{"datum":8.6},"y":{"datum":-0.65}}},
{"data":{"values":[{}]},"mark":{"type":"rule","color":"#000"},"encoding":{"x":{"datum":0},"y":{"datum":-0.65},"y2":{"datum":6.98}}},
{"data":{"name":"Eg"},"mark":{"type":"text","fontWeight":"bold","fontSize":7.9,"dy":1.2},"encoding":{"x":{"datum":0},"text":{"field":"g3"}}},
{"data":{"name":"E"},"transform":[{"filter":"datum.k=='h'"}],"mark":{"type":"text","fontWeight":"bold","fontSize":7.9},"encoding":{"x":{"datum":0},"text":{"field":"ci"}}},
{"data":{"name":"E"},"transform":[{"filter":"datum.k=='s'"}],"layer":[
{"mark":{"type":"rule","color":"#222","clip":true},"encoding":{"x":{"field":"lo","type":"quantitative"},"x2":{"field":"hi"}}},
{"mark":{"type":"point","shape":"square","filled":true,"opacity":1,"color":"#00b300","clip":true},"encoding":{"x":{"field":"est","type":"quantitative"},"size":{"field":"wt","type":"quantitative","scale":{"domain":[0,100],"range":[0,110]},"legend":null}}},
{"transform":[{"filter":"datum.hi>7.88"}],"mark":{"type":"point","shape":"triangle-right","filled":true,"opacity":1,"color":"#000","size":18},"encoding":{"x":{"datum":7.88}}},
{"transform":[{"filter":"datum.lo<-7.88"}],"mark":{"type":"point","shape":"triangle-left","filled":true,"opacity":1,"color":"#000","size":18},"encoding":{"x":{"datum":-7.88}}}
]},
{"data":{"name":"E"},"transform":[{"filter":"datum.k=='t'"},{"fold":["lo","est","hi"],"as":["key","val"]}],"mark":{"type":"trail","color":"#000"},"encoding":{"x":{"field":"val","type":"quantitative"},"order":{"field":"val","type":"quantitative"},"size":{"condition":{"test":"datum.key=='est'","value":10},"value":0}}}
]},
{"width":440,"height":348,"encoding":{"y":{"field":"r","type":"quantitative","scale":{"domain":[-5.43,26.06],"reverse":true,"nice":false,"zero":false},"axis":null}},"layer":[
{"data":{"values":[{}]},"mark":{"type":"rule","color":"#666"},"encoding":{"x":{"datum":20,"scale":{"domain":[0,440],"nice":false,"zero":false},"axis":null},"x2":{"datum":440},"y":{"datum":-0.65}}},
{"data":{"name":"F"},"layer":[
{"mark":{"type":"text","align":"left","fontSize":{"expr":"datum.k=='h'||datum.k=='t'?8.5:9.2"},"fontWeight":{"expr":"datum.k=='h'||datum.k=='t'?'bold':'normal'"}},"encoding":{"x":{"datum":23,"axis":null},"text":{"field":"study"}}},
{"mark":{"type":"text","align":"right","fontSize":{"expr":"datum.k=='h'||datum.k=='t'?8.5:9.2"},"fontWeight":{"expr":"datum.k=='h'||datum.k=='t'?'bold':'normal'"}},"encoding":{"x":{"datum":183,"axis":null},"text":{"field":"e1"}}},
{"mark":{"type":"text","align":"right","fontSize":{"expr":"datum.k=='h'||datum.k=='t'?8.5:9.2"},"fontWeight":{"expr":"datum.k=='h'||datum.k=='t'?'bold':'normal'"}},"encoding":{"x":{"datum":216,"axis":null},"text":{"field":"n1"}}},
{"mark":{"type":"text","align":"right","fontSize":{"expr":"datum.k=='h'||datum.k=='t'?8.5:9.2"},"fontWeight":{"expr":"datum.k=='h'||datum.k=='t'?'bold':'normal'"}},"encoding":{"x":{"datum":257,"axis":null},"text":{"field":"e2"}}},
{"mark":{"type":"text","align":"right","fontSize":{"expr":"datum.k=='h'||datum.k=='t'?8.5:9.2"},"fontWeight":{"expr":"datum.k=='h'||datum.k=='t'?'bold':'normal'"}},"encoding":{"x":{"datum":289,"axis":null},"text":{"field":"n2"}}},
{"mark":{"type":"text","align":"right","fontSize":{"expr":"datum.k=='h'||datum.k=='t'?8.5:9.2"},"fontWeight":{"expr":"datum.k=='h'||datum.k=='t'?'bold':'normal'"}},"encoding":{"x":{"datum":332,"axis":null},"text":{"field":"w"}}},
{"mark":{"type":"text","align":"right","fontSize":{"expr":"datum.k=='h'||datum.k=='t'?8.5:9.2"},"fontWeight":{"expr":"datum.k=='h'||datum.k=='t'?'bold':'normal'"}},"encoding":{"x":{"datum":430,"axis":null},"text":{"field":"ci"}}}
]},
{"data":{"name":"Fg"},"layer":[
{"mark":{"type":"text","align":"left","font":"Liberation Sans","fontWeight":"bold","fontSize":22,"color":"#000","dy":-5.4},"encoding":{"x":{"datum":2,"axis":null},"text":{"field":"letter"}}},
{"mark":{"type":"text","align":"left","font":"Liberation Serif","fontWeight":"bold","fontSize":16,"color":"#000","dy":-5.4},"encoding":{"x":{"datum":27,"axis":null},"text":{"field":"title"}}},
{"mark":{"type":"text","fontWeight":"bold","fontSize":8.5,"dy":-1.9},"encoding":{"x":{"datum":182,"axis":null},"text":{"field":"g1"}}},
{"mark":{"type":"text","fontWeight":"bold","fontSize":8.5,"dy":-1.9},"encoding":{"x":{"datum":253,"axis":null},"text":{"field":"g2"}}},
{"mark":{"type":"text","fontWeight":"bold","fontSize":8.5,"dy":-1.9},"encoding":{"x":{"datum":386,"axis":null},"text":{"field":"g3"}}}
]},
{"data":{"name":"Fn"},"mark":{"type":"text","align":"left","fontSize":9.2},"encoding":{"x":{"datum":23,"axis":null},"text":{"field":"note"}}}
]},
{"width":215,"height":348,"encoding":{"y":{"field":"r","type":"quantitative","scale":{"domain":[-5.43,26.06],"reverse":true,"nice":false,"zero":false},"axis":null}},"layer":[
{"data":{"values":[{}]},"mark":{"type":"rule","color":"#666"},"encoding":{"x":{"datum":0.151,"scale":{"type":"log","domain":[0.151,6.62],"nice":false,"zero":false},"axis":{"values":[0.2,0.5,1,2,5],"format":"~g","title":"Favours [PDVR]\u00a0\u00a0\u00a0Favours [PD]","labelFontSize":9.2,"titleFontSize":9.2}},"x2":{"datum":7.76},"y":{"datum":-0.65}}},
{"data":{"values":[{}]},"mark":{"type":"rule","color":"#000"},"encoding":{"x":{"datum":1},"y":{"datum":-0.65},"y2":{"datum":26.06}}},
{"data":{"name":"Fg"},"mark":{"type":"text","fontWeight":"bold","fontSize":8.5,"dy":-1.9},"encoding":{"x":{"datum":1},"text":{"field":"g3"}}},
{"data":{"name":"F"},"transform":[{"filter":"datum.k=='h'"}],"mark":{"type":"text","fontWeight":"bold","fontSize":8.5},"encoding":{"x":{"datum":1},"text":{"field":"ci"}}},
{"data":{"name":"F"},"transform":[{"filter":"datum.k=='s'"}],"layer":[
{"mark":{"type":"rule","color":"#222","clip":true},"encoding":{"x":{"field":"lo","type":"quantitative"},"x2":{"field":"hi"}}},
{"mark":{"type":"point","shape":"square","filled":true,"opacity":1,"color":"#0000cc","clip":true},"encoding":{"x":{"field":"est","type":"quantitative"},"size":{"field":"wt","type":"quantitative","scale":{"domain":[0,100],"range":[0,110]},"legend":null}}},
{"transform":[{"filter":"datum.hi>6.62"}],"mark":{"type":"point","shape":"triangle-right","filled":true,"opacity":1,"color":"#000","size":18},"encoding":{"x":{"datum":6.62}}},
{"transform":[{"filter":"datum.lo<0.151"}],"mark":{"type":"point","shape":"triangle-left","filled":true,"opacity":1,"color":"#000","size":18},"encoding":{"x":{"datum":0.151}}}
]},
{"data":{"name":"F"},"transform":[{"filter":"datum.k=='t'"},{"fold":["lo","est","hi"],"as":["key","val"]}],"mark":{"type":"trail","color":"#000"},"encoding":{"x":{"field":"val","type":"quantitative"},"order":{"field":"val","type":"quantitative"},"size":{"condition":{"test":"datum.key=='est'","value":9},"value":0}}}
]}
]
}
